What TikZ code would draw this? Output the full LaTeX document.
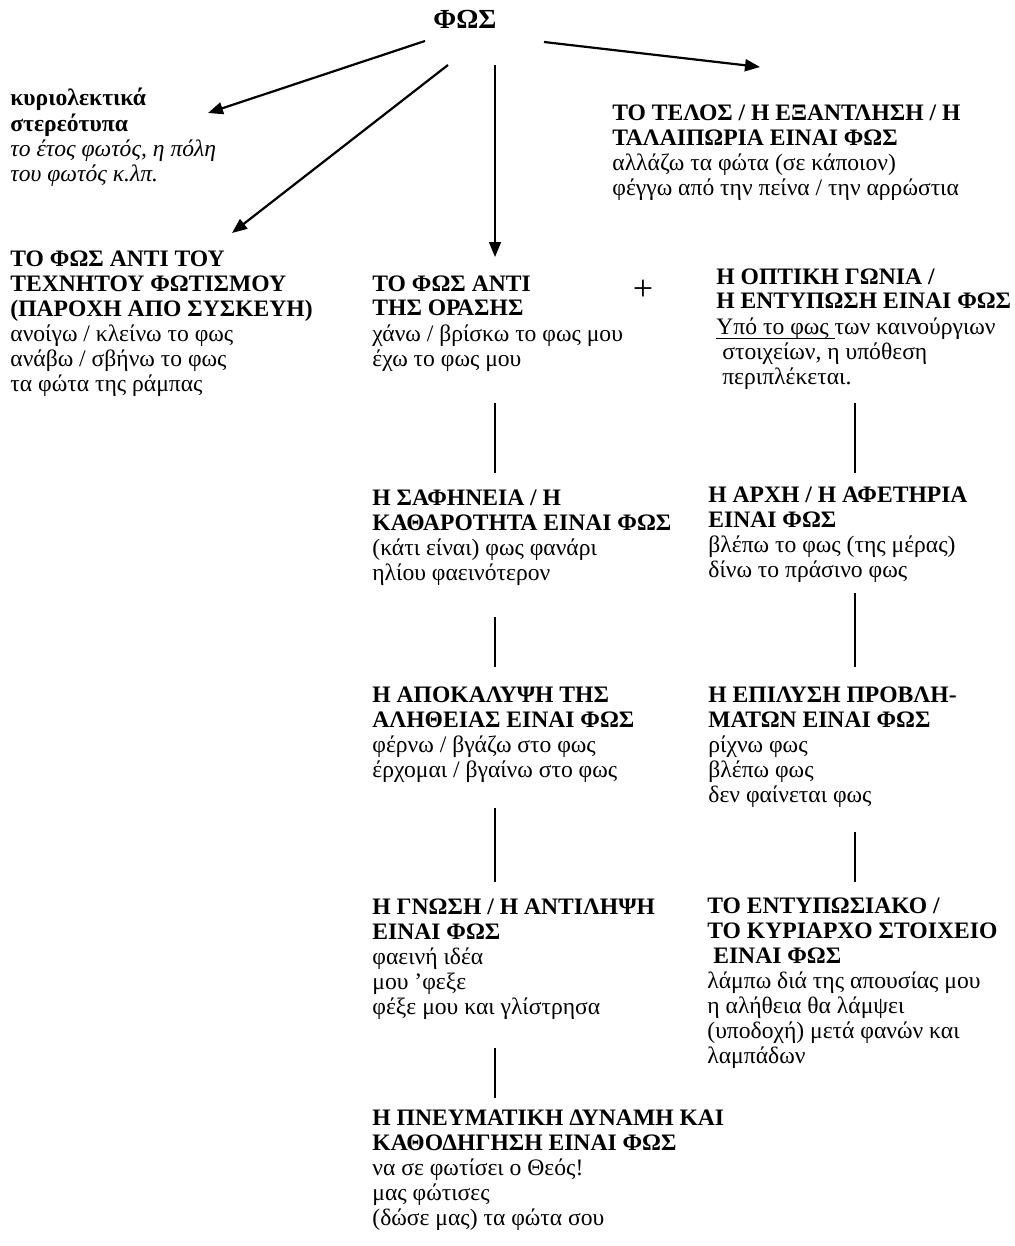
\documentclass[tikz,border=0pt]{standalone}
\usepackage{fontspec}
\setmainfont{Liberation Serif}
\usetikzlibrary{arrows.meta}
\newcommand\ulword[1]{\setbox0\hbox{#1}\rlap{\rule[-2.4pt]{\wd0}{0.6pt}}\box0}
\newcommand\blk[1]{\begin{tabular}[t]{@{}l@{}}#1\end{tabular}}
\begin{document}
\begin{tikzpicture}[x=0.5pt,y=-0.5pt,
  txt/.style={anchor=base west, inner sep=0pt, font=\fontsize{11.8}{12.5}\selectfont},
  arr/.style={line width=1.1pt, -{Triangle[length=7.5pt,width=6pt]}},
  varr/.style={line width=0.75pt, -{Triangle[length=7.5pt,width=6pt]}},
  vline/.style={line width=0.75pt}]
\path[use as bounding box] (0,0) rectangle (1015,1246);

\node[anchor=base west, inner sep=0pt, font=\fontsize{13.8}{16}\selectfont\bfseries] (phos) at (433,29) {ΦΩΣ};

\node[txt] (lit) at (10,106) {\blk{\textbf{κυριολεκτικά}\\ \textbf{στερεότυπα}\\ \textit{το έτος φωτός, η πόλη}\\ \textit{του φωτός κ.λπ.}}};

\node[txt] (end) at (612,121) {\blk{\textbf{ΤΟ ΤΕΛΟΣ / Η ΕΞΑΝΤΛΗΣΗ / Η}\\ \textbf{ΤΑΛΑΙΠΩΡΙΑ ΕΙΝΑΙ ΦΩΣ}\\ αλλάζω τα φώτα (σε κάποιον)\\ φέγγω από την πείνα / την αρρώστια}};

\node[txt] (lamp) at (10,266) {\blk{\textbf{ΤΟ ΦΩΣ ΑΝΤΙ ΤΟΥ}\\ \textbf{ΤΕΧΝΗΤΟΥ ΦΩΤΙΣΜΟΥ}\\ \textbf{(ΠΑΡΟΧΗ ΑΠΟ ΣΥΣΚΕΥΗ)}\\ ανοίγω / κλείνω το φως\\ ανάβω / σβήνω το φως\\ τα φώτα της ράμπας}};

\node[txt] (sight) at (372,291) {\blk{\textbf{ΤΟ ΦΩΣ ΑΝΤΙ}\\ \textbf{ΤΗΣ ΟΡΑΣΗΣ}\\ χάνω / βρίσκω το φως μου\\ έχω το φως μου}};

\node[inner sep=0pt, font=\fontsize{18}{20}\selectfont] (plus) at (643,290) {+};

\node[txt] (view) at (716,284) {\blk{\textbf{Η ΟΠΤΙΚΗ ΓΩΝΙΑ /}\\ \textbf{Η ΕΝΤΥΠΩΣΗ ΕΙΝΑΙ ΦΩΣ}\\ \ulword{Υπό το φως\ }των καινούργιων\\ \hspace{0.25em}στοιχείων, η υπόθεση\\ \hspace{0.25em}περιπλέκεται.}};

\node[txt] (clear) at (372,505) {\blk{\textbf{Η ΣΑΦΗΝΕΙΑ / Η}\\ \textbf{ΚΑΘΑΡΟΤΗΤΑ ΕΙΝΑΙ ΦΩΣ}\\ (κάτι είναι) φως φανάρι\\ ηλίου φαεινότερον}};

\node[txt] (start) at (708,502) {\blk{\textbf{Η ΑΡΧΗ / Η ΑΦΕΤΗΡΙΑ}\\ \textbf{ΕΙΝΑΙ ΦΩΣ}\\ βλέπω το φως (της μέρας)\\ δίνω το πράσινο φως}};

\node[txt] (truth) at (372,702) {\blk{\textbf{Η ΑΠΟΚΑΛΥΨΗ ΤΗΣ}\\ \textbf{ΑΛΗΘΕΙΑΣ ΕΙΝΑΙ ΦΩΣ}\\ φέρνω / βγάζω στο φως\\ έρχομαι / βγαίνω στο φως}};

\node[txt] (solve) at (708,702) {\blk{\textbf{Η ΕΠΙΛΥΣΗ ΠΡΟΒΛΗ-}\\ \textbf{ΜΑΤΩΝ ΕΙΝΑΙ ΦΩΣ}\\ ρίχνω φως\\ βλέπω φως\\ δεν φαίνεται φως}};

\node[txt] (know) at (372,914) {\blk{\textbf{Η ΓΝΩΣΗ / Η ΑΝΤΙΛΗΨΗ}\\ \textbf{ΕΙΝΑΙ ΦΩΣ}\\ φαεινή ιδέα\\ μου ’φεξε\\ φέξε μου και γλίστρησα}};

\node[txt] (impr) at (707,913) {\blk{\textbf{ΤΟ ΕΝΤΥΠΩΣΙΑΚΟ /}\\ \textbf{ΤΟ ΚΥΡΙΑΡΧΟ ΣΤΟΙΧΕΙΟ}\\ \textbf{\hspace{0.25em}ΕΙΝΑΙ ΦΩΣ}\\ λάμπω διά της απουσίας μου\\ η αλήθεια θα λάμψει\\ (υποδοχή) μετά φανών και\\ λαμπάδων}};

\node[txt] (spirit) at (372,1125) {\blk{\textbf{Η ΠΝΕΥΜΑΤΙΚΗ ΔΥΝΑΜΗ ΚΑΙ}\\ \textbf{ΚΑΘΟΔΗΓΗΣΗ ΕΙΝΑΙ ΦΩΣ}\\ να σε φωτίσει ο Θεός!\\ μας φώτισες\\ (δώσε μας) τα φώτα σου}};

% arrows from ΦΩΣ
\coordinate (a1s) at (425,41);  \coordinate (a1e) at (208,113);
\coordinate (a2s) at (448,65);  \coordinate (a2e) at (232,233);
\coordinate (a3s) at (495,65);  \coordinate (a3e) at (495,257);
\coordinate (a4s) at (544,42);  \coordinate (a4e) at (760,67);
\draw[arr] (a1s) -- (a1e);
\draw[arr] (a2s) -- (a2e);
\draw[varr] (a3s) -- (a3e);
\draw[arr] (a4s) -- (a4e);

% left column links
\coordinate (l1s) at (495,403);  \coordinate (l1e) at (495,473);
\coordinate (l2s) at (495,617);  \coordinate (l2e) at (495,667);
\coordinate (l3s) at (495,808);  \coordinate (l3e) at (495,882);
\coordinate (l4s) at (495,1048); \coordinate (l4e) at (495,1098);
\draw[vline] (l1s) -- (l1e);
\draw[vline] (l2s) -- (l2e);
\draw[vline] (l3s) -- (l3e);
\draw[vline] (l4s) -- (l4e);

% right column links
\coordinate (r1s) at (855,403);  \coordinate (r1e) at (855,473);
\coordinate (r2s) at (855,593);  \coordinate (r2e) at (855,667);
\coordinate (r3s) at (855,832);  \coordinate (r3e) at (855,882);
\draw[vline] (r1s) -- (r1e);
\draw[vline] (r2s) -- (r2e);
\draw[vline] (r3s) -- (r3e);
\end{tikzpicture}
\end{document}
